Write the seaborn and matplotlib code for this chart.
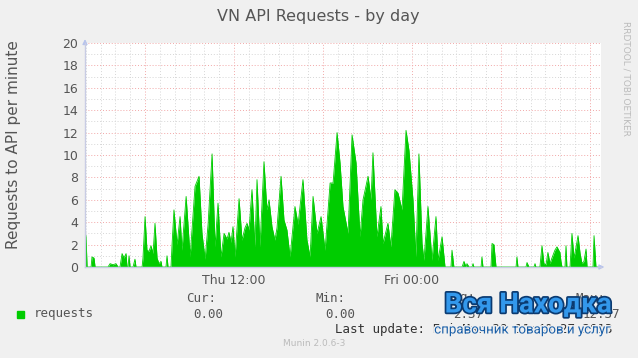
import matplotlib
matplotlib.use("Agg")
import numpy as np
import pandas as pd
import seaborn as sns
import matplotlib.pyplot as plt
from matplotlib.ticker import MultipleLocator, FuncFormatter
from matplotlib.patches import Rectangle
import matplotlib.patheffects as pe

# ---- data (hours since Thu 00:00, requests per minute) ----
hours = [1.95, 2.02, 2.09, 2.36, 2.42, 2.56, 2.63, 3.50, 3.64, 3.84, 4.04, 4.18,
         4.31, 4.45, 4.58, 4.72, 4.78, 4.85, 4.92, 4.99, 5.19, 5.32, 5.39,
         5.80, 5.86, 6.00, 6.13, 6.27, 6.40, 6.54, 6.67, 6.81, 6.94, 7.08, 7.14,
         7.41, 7.48, 7.55,
         7.75, 7.82, 7.95, 8.16, 8.36, 8.49, 8.77, 9.04, 9.37, 9.64, 9.84, 10.05,
         10.25, 10.52, 10.72, 10.92, 11.12, 11.33, 11.53, 11.66, 11.80, 11.93,
         12.07, 12.34, 12.54, 12.74, 12.88, 13.01, 13.21, 13.41, 13.55, 13.75,
         14.02, 14.22, 14.36, 14.56, 14.76, 14.90, 15.17, 15.37, 15.57, 15.78,
         16.11, 16.32, 16.65, 16.92, 17.13, 17.33, 17.60, 17.87, 18.14, 18.34,
         18.48, 18.68, 18.95, 19.15, 19.35, 19.69, 19.96, 20.23, 20.50, 20.70,
         21.04, 21.24, 21.37, 21.64, 21.91, 22.05, 22.38, 22.58, 22.85, 23.06,
         23.33, 23.60, 23.80, 24.07, 24.27, 24.47, 24.68, 24.81, 25.08, 25.35,
         25.62, 25.76, 26.03, 26.23,
         26.63, 26.70, 26.83, 27.38, 27.51, 27.65, 27.71, 27.85, 28.05, 28.12,
         28.18, 28.66, 28.72, 28.79, 29.33, 29.40, 29.53, 29.67, 31.02, 31.08,
         31.15, 31.69, 31.76, 31.89, 32.23, 32.30, 32.36, 32.63, 32.77, 32.90,
         33.04, 33.17, 33.31, 33.44, 33.64, 33.78, 33.98, 34.05, 34.12, 34.32,
         34.39, 34.45, 34.66, 34.79, 34.93, 35.07, 35.20, 35.34, 35.47, 35.60,
         35.74, 35.81, 36.21, 36.28, 36.41, 36.68]
requests = [0.5, 2.8, 0.0, 0.0, 0.9, 0.8, 0.0, 0.0, 0.3, 0.2, 0.3, 0.0,
            0.0, 1.2, 0.8, 1.2, 0.0, 0.0, 1.0, 0.0, 0.0, 0.7, 0.0,
            0.0, 0.8, 4.5, 1.5, 1.4, 1.9, 1.2, 3.9, 0.8, 0.3, 0.5, 0.0,
            0.0, 1.0, 0.0,
            0.0, 2.0, 5.1, 2.0, 4.5, 1.5, 6.3, 0.9, 7.2, 8.1, 3.0, 0.7,
            3.8, 10.1, 1.8, 5.7, 0.9, 3.0, 2.5, 3.1, 2.2, 3.6,
            0.9, 6.1, 2.4, 3.5, 3.9, 3.3, 6.9, 1.8, 7.8, 1.8,
            9.4, 5.1, 6.0, 3.6, 2.4, 3.5, 8.1, 4.2, 3.3, 0.9,
            5.4, 3.8, 7.8, 2.4, 0.9, 6.3, 3.0, 4.5, 1.5, 5.1,
            7.5, 7.5, 12.0, 9.3, 5.4, 3.0, 11.8, 9.3, 2.7, 6.0,
            8.1, 6.0, 10.2, 2.7, 5.4, 2.1, 3.9, 1.8, 6.9, 6.6,
            5.1, 12.2, 10.4, 6.0, 0.9, 10.1, 2.1, 0.6, 5.4, 0.6,
            4.5, 0.6, 2.7, 0.0,
            0.0, 1.5, 0.0, 0.0, 0.5, 0.0, 0.3, 0.0, 0.0, 0.3,
            0.0, 0.0, 0.9, 0.0, 0.0, 2.1, 2.0, 0.0, 0.0, 0.9,
            0.0, 0.0, 0.4, 0.0, 0.0, 0.3, 0.0, 0.0, 1.9, 0.3,
            0.2, 1.3, 0.3, 0.8, 1.5, 1.8, 1.3, 0.5, 0.0, 0.0,
            1.9, 0.0, 0.0, 3.0, 0.8, 1.8, 2.8, 1.2, 0.3, 0.5,
            1.6, 0.0, 0.0, 2.8, 0.0, 0.0]

x_tick_hours = [12, 24]
x_tick_labels = ["Thu 12:00", "Fri 00:00"]
legend_headers = ["Cur:", "Min:", "Avg:", "Max:"]
legend_values = ["0.00", "0.00", "2.37", "12.37"]

title = "VN API Requests - by day"
ylabel = "Requests to API per minute"

sns.set_style("white")
plt.rcParams['font.family'] = ['DejaVu Sans']

GREEN = "#00CC00"
TXT = "#555555"

fig = plt.figure(figsize=(6.38, 3.58), dpi=100, facecolor="#F0F0F0")
ax = fig.add_axes([85 / 638, 91 / 358, 516 / 638, 224 / 358])
ax.set_facecolor("white")

df = pd.DataFrame({"hour": hours, "requests": requests})
ax.fill_between(df["hour"], 0, df["requests"], color=GREEN, lw=0, zorder=3)
sns.lineplot(data=df, x="hour", y="requests", color=GREEN, lw=0.6, ax=ax,
             zorder=3, legend=False)

ax.set_xlim(1.95, 36.75)
ax.set_ylim(0, 20)

ax.yaxis.set_major_locator(MultipleLocator(2))
ax.yaxis.set_minor_locator(MultipleLocator(1))
ax.xaxis.set_major_locator(MultipleLocator(6))
ax.xaxis.set_minor_locator(MultipleLocator(1))
lab = dict(zip(x_tick_hours, x_tick_labels))
ax.xaxis.set_major_formatter(FuncFormatter(lambda v, p: lab.get(int(round(v)), "")))

ax.grid(which="major", color="#F2A8A8", ls=(0, (1, 2)), lw=0.7, zorder=1)
ax.grid(which="minor", color="#D6D6D6", ls=(0, (1, 2)), lw=0.7, zorder=1)
ax.set_axisbelow(True)

for s in ["top", "right"]:
    ax.spines[s].set_visible(False)
for s in ["left", "bottom"]:
    ax.spines[s].set_color("#C8CCE4")
    ax.spines[s].set_linewidth(1.0)
    ax.spines[s].set_zorder(5)

ax.tick_params(axis="both", which="major", labelsize=9, labelcolor=TXT,
               length=2, color="#B0B0B0", pad=3)
ax.tick_params(axis="both", which="minor", length=0)
ax.set_xlabel("")
ax.set_ylabel("")

# axis arrows
ax.annotate("", xy=(0, 1.03), xytext=(0, 0.99), xycoords="axes fraction",
            arrowprops=dict(arrowstyle="-|>", color="#B8C4EC", lw=1,
                            mutation_scale=7), annotation_clip=False)
ax.annotate("", xy=(1.012, 0), xytext=(0.99, 0), xycoords="axes fraction",
            arrowprops=dict(arrowstyle="-|>", color="#B8C4EC", lw=1,
                            mutation_scale=7), annotation_clip=False)

fig.text(318 / 638, 1 - 17 / 358, title, ha="center", va="center",
         fontsize=11.5, color=TXT)
fig.text(14 / 638, 1 - 145 / 358, ylabel, ha="center", va="center",
         rotation=90, fontsize=11, color=TXT)
fig.text(626 / 638, 1 - 78 / 358, "RRDTOOL / TOBI OETIKER", ha="center",
         va="center", rotation=270, fontsize=6.5, color="#BBBBBB")

# legend area
mono = "DejaVu Sans Mono"
fig.add_artist(Rectangle((17 / 638, 1 - 318 / 358), 7 / 638, 7 / 358,
                         transform=fig.transFigure, color=GREEN))
fig.text(34 / 638, 1 - 314 / 358, "requests", family=mono, fontsize=9,
         color=TXT, va="center")
hx = [186, 316, 446, 576]
vx = [193, 325, 453, 583]
for h, v, xh, xv in zip(legend_headers, legend_values, hx, vx):
    fig.text(xh / 638, 1 - 298 / 358, h, family=mono, fontsize=9, color=TXT,
             va="center")
    fig.text(xv / 638, 1 - 314 / 358, v, family=mono, fontsize=9, color=TXT,
             va="center")
fig.text(335 / 638, 1 - 330 / 358, "Last update: Fri Mar 29 11:40:27 2013",
         family=mono, fontsize=9, color="#333333", va="center")
fig.text(314 / 638, 1 - 344 / 358, "Munin 2.0.6-3", fontsize=6.5,
         color="#BBBBBB", ha="center", va="center")

# watermark
fig.text(528 / 638, 1 - 305 / 358, "Вся Находка", fontsize=20,
         family="Roboto", fontweight="bold", color="#3398EC", ha="center",
         va="center",
         path_effects=[pe.withStroke(linewidth=2.5, foreground="#0B3A70")])
fig.text(523 / 638, 1 - 330 / 358, "справочник товаров и услуг", fontsize=9.6,
         family="Roboto", color="#1A5FA8", ha="center", va="center",
         path_effects=[pe.withStroke(linewidth=2, foreground="#F0F0F0")])

fig.savefig("out.png", dpi=100, facecolor=fig.get_facecolor())
